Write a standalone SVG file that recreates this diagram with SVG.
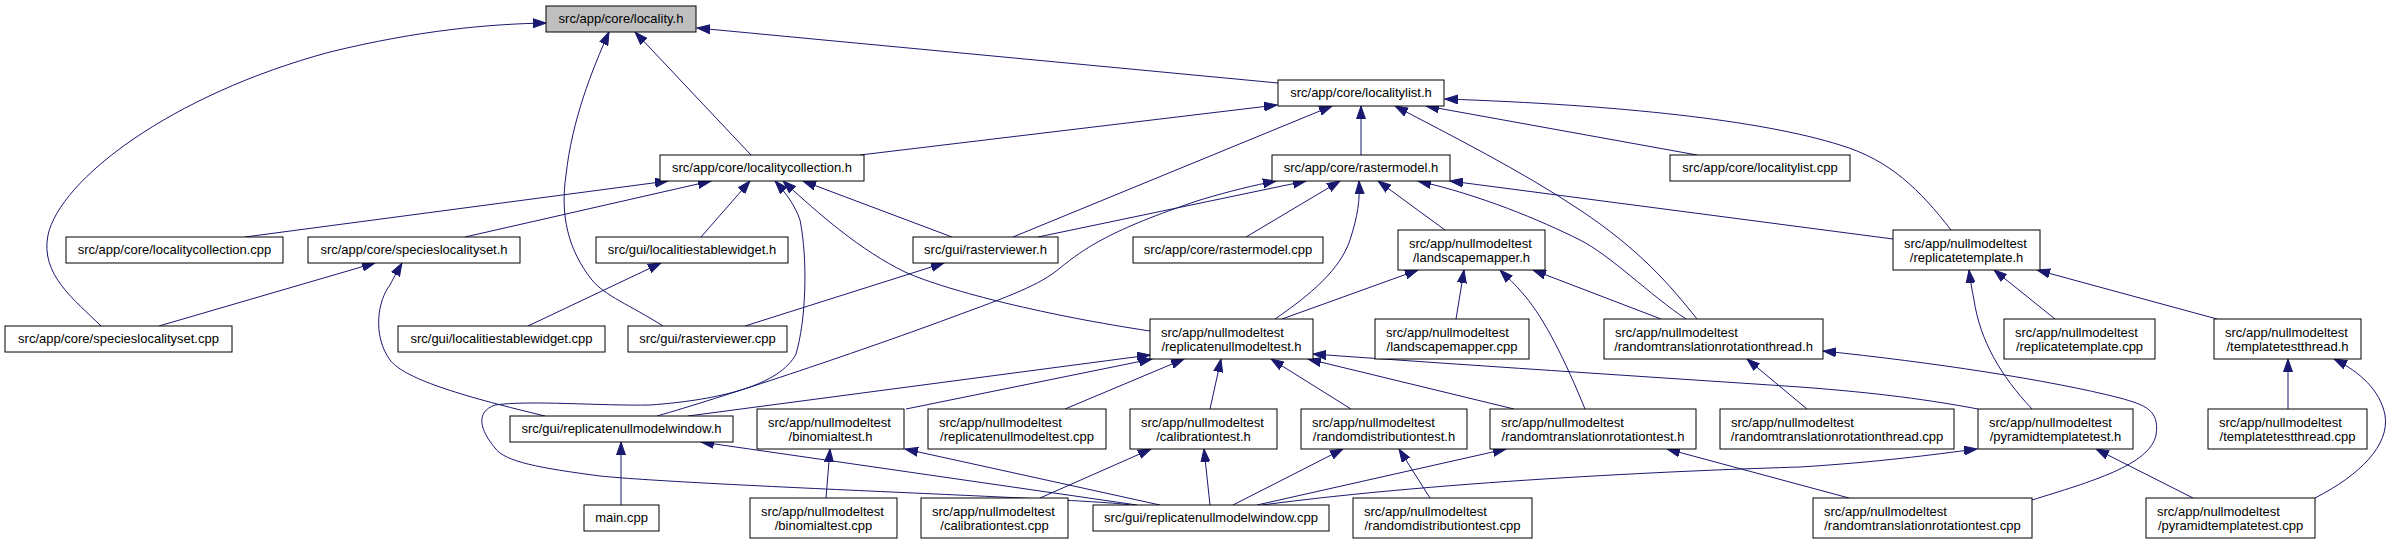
<svg xmlns="http://www.w3.org/2000/svg" width="2392" height="544" viewBox="0 0 2392 544">
<defs>
<marker id="arr" markerWidth="14" markerHeight="10" refX="13" refY="5" orient="auto" markerUnits="userSpaceOnUse">
<path d="M0,0.5 L13,5 L0,9.5 z" fill="#191970" stroke="#191970" stroke-width="1"/>
</marker>
</defs>
<style>
rect{fill:#ffffff;stroke:#000000;stroke-width:1}
rect.root{fill:#bfbfbf}
text{font-family:"Liberation Sans",Arial,Helvetica,sans-serif;font-size:13px;fill:#000000}
text.c{text-anchor:middle}
text.l{text-anchor:start}
#edges path{fill:none;stroke:#191970;stroke-width:1;marker-end:url(#arr)}
</style>
<rect width="2392" height="544" style="fill:#ffffff;stroke:none"/>
<g id="edges">
<path d="M101,326 C75,300 40,275 48,235 C60,180 170,95 330,52 C420,30 490,24 546,23"/>
<path d="M663,326 C630,305 605,296 592,280 C568,250 560,215 566,175 C572,120 592,70 609,32"/>
<path d="M751,155 L635,32"/>
<path d="M1278,83 L697,28"/>
<path d="M860,155 L1277,105"/>
<path d="M1013,237 L1332,106"/>
<path d="M1361,155 L1361,106"/>
<path d="M1697,319 C1670,285 1640,250 1580,210 C1520,170 1450,135 1395,106"/>
<path d="M1697,155 L1426,106"/>
<path d="M1951,230 C1920,190 1890,160 1840,145 C1760,120 1620,105 1445,99"/>
<path d="M245,237 L668,181"/>
<path d="M465,237 L711,181"/>
<path d="M701,237 L750,181"/>
<path d="M1130,505 C1100,499 700,486 600,476 C540,468 505,462 495,448 C480,430 475,412 495,405 C530,400 600,406 650,405 C720,400 780,385 796,354 C806,320 808,260 800,220 C795,205 785,192 775,181"/>
<path d="M1150,331 C1050,316 950,292 905,272 C860,250 820,215 783,181"/>
<path d="M952,237 L803,181"/>
<path d="M1038,237 L1306,181"/>
<path d="M657,416 C720,398 850,355 950,318 C1010,296 1040,285 1060,268 C1085,248 1110,230 1200,200 C1230,191 1255,185 1276,181"/>
<path d="M1246,237 L1340,181"/>
<path d="M1275,319 C1310,295 1340,270 1350,240 C1358,215 1360,200 1359,181"/>
<path d="M1445,230 L1378,181"/>
<path d="M1686,319 C1650,295 1610,255 1580,240 C1540,220 1480,195 1418,181"/>
<path d="M1893,239 L1450,181"/>
<path d="M1282,319 L1418,270"/>
<path d="M1456,319 L1464,270"/>
<path d="M1585,409 C1565,360 1545,320 1525,296 C1515,284 1507,277 1500,270"/>
<path d="M1661,319 L1533,270"/>
<path d="M2032,409 C2000,375 1980,340 1974,300 C1971,285 1970,278 1969,270"/>
<path d="M2055,319 L1994,270"/>
<path d="M2217,319 L2037,270"/>
<path d="M688,416 L1150,355"/>
<path d="M906,409 L1152,359"/>
<path d="M1065,409 L1184,359"/>
<path d="M1210,409 L1221,359"/>
<path d="M1351,409 L1271,359"/>
<path d="M1514,409 L1308,359"/>
<path d="M1978,409 C1930,400 1880,393 1800,387 C1650,377 1450,364 1313,354"/>
<path d="M1807,409 L1747,359"/>
<path d="M2032,500 C2090,482 2150,465 2156,435 C2160,410 2145,405 2120,398 C2050,380 1930,362 1823,351"/>
<path d="M2288,409 L2288,359"/>
<path d="M2315,498 C2360,475 2390,445 2385,415 C2380,390 2360,372 2334,359"/>
<path d="M2193,498 L2096,449"/>
<path d="M1262,505 C1450,480 1700,470 1800,467 C1880,462 1930,455 1977,449"/>
<path d="M1257,505 L1506,449"/>
<path d="M1849,498 L1667,449"/>
<path d="M1233,505 L1343,449"/>
<path d="M1430,498 L1399,449"/>
<path d="M1040,498 L1151,449"/>
<path d="M1210,505 L1204,449"/>
<path d="M826,498 L830,449"/>
<path d="M1160,505 L905,449"/>
<path d="M621,505 L621,442"/>
<path d="M1137,505 L701,442"/>
<path d="M159,326 L375,263"/>
<path d="M545,416 C470,398 405,380 390,360 C372,335 378,300 390,285 C395,275 398,270 402,263"/>
<path d="M528,326 L661,263"/>
<path d="M745,326 L944,263"/>
</g>
<g id="locality_h"><rect class="root" x="546" y="6" width="150" height="26"/><text class="c" x="621" y="23">src/app/core/locality.h</text></g>
<g id="localitylist_h"><rect x="1278" y="80" width="166" height="26"/><text class="c" x="1361" y="97">src/app/core/localitylist.h</text></g>
<g id="localitycollection_h"><rect x="660" y="155" width="204" height="26"/><text class="c" x="762" y="172">src/app/core/localitycollection.h</text></g>
<g id="rastermodel_h"><rect x="1272" y="155" width="178" height="26"/><text class="c" x="1361" y="172">src/app/core/rastermodel.h</text></g>
<g id="localitylist_cpp"><rect x="1670" y="155" width="180" height="26"/><text class="c" x="1760" y="172">src/app/core/localitylist.cpp</text></g>
<g id="localitycollection_cpp"><rect x="66" y="237" width="217" height="26"/><text class="c" x="174.5" y="254">src/app/core/localitycollection.cpp</text></g>
<g id="specieslocalityset_h"><rect x="308" y="237" width="212" height="26"/><text class="c" x="414" y="254">src/app/core/specieslocalityset.h</text></g>
<g id="localitiestablewidget_h"><rect x="596" y="237" width="192" height="26"/><text class="c" x="692" y="254">src/gui/localitiestablewidget.h</text></g>
<g id="rasterviewer_h"><rect x="913" y="237" width="145" height="26"/><text class="c" x="985.5" y="254">src/gui/rasterviewer.h</text></g>
<g id="rastermodel_cpp"><rect x="1133" y="237" width="190" height="26"/><text class="c" x="1228" y="254">src/app/core/rastermodel.cpp</text></g>
<g id="landscapemapper_h"><rect x="1398" y="230" width="147" height="40"/><text class="l" x="1409" y="247.5">src/app/nullmodeltest</text><text class="c" x="1471.5" y="261.5">/landscapemapper.h</text></g>
<g id="replicatetemplate_h"><rect x="1893" y="230" width="147" height="40"/><text class="l" x="1904" y="247.5">src/app/nullmodeltest</text><text class="c" x="1966.5" y="261.5">/replicatetemplate.h</text></g>
<g id="specieslocalityset_cpp"><rect x="5" y="326" width="227" height="26"/><text class="c" x="118.5" y="343">src/app/core/specieslocalityset.cpp</text></g>
<g id="localitiestablewidget_cpp"><rect x="398" y="326" width="207" height="26"/><text class="c" x="501.5" y="343">src/gui/localitiestablewidget.cpp</text></g>
<g id="rasterviewer_cpp"><rect x="628" y="326" width="159" height="26"/><text class="c" x="707.5" y="343">src/gui/rasterviewer.cpp</text></g>
<g id="replicatenullmodeltest_h"><rect x="1150" y="319" width="163" height="40"/><text class="l" x="1161" y="336.5">src/app/nullmodeltest</text><text class="c" x="1231.5" y="350.5">/replicatenullmodeltest.h</text></g>
<g id="landscapemapper_cpp"><rect x="1375" y="319" width="154" height="40"/><text class="l" x="1386" y="336.5">src/app/nullmodeltest</text><text class="c" x="1452" y="350.5">/landscapemapper.cpp</text></g>
<g id="randomtranslationrotationthread_h"><rect x="1604" y="319" width="219" height="40"/><text class="l" x="1615" y="336.5">src/app/nullmodeltest</text><text class="c" x="1713.5" y="350.5">/randomtranslationrotationthread.h</text></g>
<g id="replicatetemplate_cpp"><rect x="2004" y="319" width="151" height="40"/><text class="l" x="2015" y="336.5">src/app/nullmodeltest</text><text class="c" x="2079.5" y="350.5">/replicatetemplate.cpp</text></g>
<g id="templatetestthread_h"><rect x="2214" y="319" width="147" height="40"/><text class="l" x="2225" y="336.5">src/app/nullmodeltest</text><text class="c" x="2287.5" y="350.5">/templatetestthread.h</text></g>
<g id="replicatenullmodelwindow_h"><rect x="510" y="416" width="223" height="26"/><text class="c" x="621.5" y="433">src/gui/replicatenullmodelwindow.h</text></g>
<g id="binomialtest_h"><rect x="757" y="409" width="147" height="40"/><text class="l" x="768" y="426.5">src/app/nullmodeltest</text><text class="c" x="830.5" y="440.5">/binomialtest.h</text></g>
<g id="replicatenullmodeltest_cpp"><rect x="928" y="409" width="178" height="40"/><text class="l" x="939" y="426.5">src/app/nullmodeltest</text><text class="c" x="1017" y="440.5">/replicatenullmodeltest.cpp</text></g>
<g id="calibrationtest_h"><rect x="1130" y="409" width="147" height="40"/><text class="l" x="1141" y="426.5">src/app/nullmodeltest</text><text class="c" x="1203.5" y="440.5">/calibrationtest.h</text></g>
<g id="randomdistributiontest_h"><rect x="1301" y="409" width="166" height="40"/><text class="l" x="1312" y="426.5">src/app/nullmodeltest</text><text class="c" x="1384" y="440.5">/randomdistributiontest.h</text></g>
<g id="randomtranslationrotationtest_h"><rect x="1490" y="409" width="206" height="40"/><text class="l" x="1501" y="426.5">src/app/nullmodeltest</text><text class="c" x="1593" y="440.5">/randomtranslationrotationtest.h</text></g>
<g id="randomtranslationrotationthread_cpp"><rect x="1720" y="409" width="234" height="40"/><text class="l" x="1731" y="426.5">src/app/nullmodeltest</text><text class="c" x="1837" y="440.5">/randomtranslationrotationthread.cpp</text></g>
<g id="pyramidtemplatetest_h"><rect x="1978" y="409" width="155" height="40"/><text class="l" x="1989" y="426.5">src/app/nullmodeltest</text><text class="c" x="2055.5" y="440.5">/pyramidtemplatetest.h</text></g>
<g id="templatetestthread_cpp"><rect x="2208" y="409" width="159" height="40"/><text class="l" x="2219" y="426.5">src/app/nullmodeltest</text><text class="c" x="2287.5" y="440.5">/templatetestthread.cpp</text></g>
<g id="main_cpp"><rect x="584" y="505" width="75" height="26"/><text class="c" x="621.5" y="522">main.cpp</text></g>
<g id="binomialtest_cpp"><rect x="750" y="498" width="147" height="40"/><text class="l" x="761" y="515.5">src/app/nullmodeltest</text><text class="c" x="823.5" y="529.5">/binomialtest.cpp</text></g>
<g id="calibrationtest_cpp"><rect x="921" y="498" width="147" height="40"/><text class="l" x="932" y="515.5">src/app/nullmodeltest</text><text class="c" x="994.5" y="529.5">/calibrationtest.cpp</text></g>
<g id="replicatenullmodelwindow_cpp"><rect x="1093" y="505" width="236" height="26"/><text class="c" x="1211" y="522">src/gui/replicatenullmodelwindow.cpp</text></g>
<g id="randomdistributiontest_cpp"><rect x="1353" y="498" width="179" height="40"/><text class="l" x="1364" y="515.5">src/app/nullmodeltest</text><text class="c" x="1442.5" y="529.5">/randomdistributiontest.cpp</text></g>
<g id="randomtranslationrotationtest_cpp"><rect x="1813" y="498" width="219" height="40"/><text class="l" x="1824" y="515.5">src/app/nullmodeltest</text><text class="c" x="1922.5" y="529.5">/randomtranslationrotationtest.cpp</text></g>
<g id="pyramidtemplatetest_cpp"><rect x="2146" y="498" width="169" height="40"/><text class="l" x="2157" y="515.5">src/app/nullmodeltest</text><text class="c" x="2230.5" y="529.5">/pyramidtemplatetest.cpp</text></g>
</svg>
